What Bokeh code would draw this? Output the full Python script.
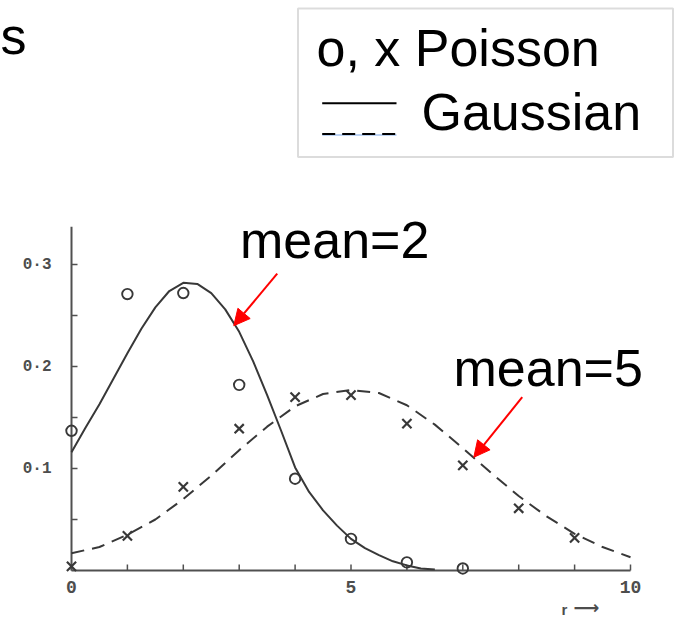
from math import pi

from bokeh.plotting import figure
from bokeh.models import Range1d, Label, Arrow, NormalHead, BoxAnnotation
from bokeh.core.properties import value
from bokeh.embed import file_html
from bokeh.resources import INLINE

# Poisson probabilities, mean = 2 (circles)
r_mean2 = [0, 1, 2, 3, 4, 5, 6, 7]
poisson_mean2 = [0.137, 0.271, 0.272, 0.182, 0.090, 0.031, 0.008, 0.002]

# Poisson probabilities, mean = 5 (crosses)
r_mean5 = [0, 1, 2, 3, 4, 5, 6, 7, 8, 9]
poisson_mean5 = [0.004, 0.034, 0.082, 0.139, 0.170, 0.172, 0.144, 0.103, 0.061, 0.032]

# Gaussian approximation, mean = 2 (solid curve)
gauss2_x = [0, 0.25, 0.5, 0.75, 1, 1.25, 1.5, 1.75, 2, 2.25, 2.5, 2.75, 3,
            3.25, 3.5, 3.75, 4, 4.25, 4.5, 4.75, 5, 5.25, 5.5, 5.75, 6, 6.25, 6.5]
gauss2_y = [0.116, 0.140, 0.163, 0.188, 0.213, 0.237, 0.258, 0.274, 0.282,
            0.281, 0.272, 0.256, 0.234, 0.205, 0.172, 0.137, 0.101, 0.077,
            0.059, 0.044, 0.031, 0.022, 0.015, 0.009, 0.005, 0.002, 0.001]

# Gaussian approximation, mean = 5 (dashed curve)
gauss5_x = [0, 0.5, 1, 1.5, 2, 2.5, 3, 3.5, 4, 4.5, 5, 5.5, 6, 6.5, 7, 7.5,
            8, 8.5, 9, 9.5, 10]
gauss5_y = [0.017, 0.023, 0.035, 0.050, 0.070, 0.093, 0.118, 0.141, 0.161,
            0.173, 0.177, 0.174, 0.162, 0.143, 0.120, 0.096, 0.073, 0.053,
            0.036, 0.023, 0.013]

# axis ticks and their labels
x_ticks = [0, 1, 2, 3, 4, 5, 6, 7, 8, 9, 10]
x_label_ticks = [0, 5, 10]
x_tick_labels = ["0", "5", "10"]
y_ticks = [0.05, 0.1, 0.15, 0.2, 0.25, 0.3]
y_label_ticks = [0.1, 0.2, 0.3]
y_tick_labels = ["0·1", "0·2", "0·3"]
y_axis_top = 0.337

INK = "#383838"
AXIS = "#505050"
TICK_TEXT = "#4d4d4d"
FONT = "Liberation Sans"
W, H = 677, 617

# the data area spans the whole canvas so that the key and notes fit around it
X0_PX, X_SCALE = 71, 55.9      # pixel of r = 0, pixels per unit of r
Y0_PX, Y_SCALE = 570, 1020     # pixel row of P = 0, pixels per unit of P

p = figure(width=W, height=H, output_backend="svg", toolbar_location=None,
           x_range=Range1d(-X0_PX / X_SCALE, (W - X0_PX) / X_SCALE),
           y_range=Range1d(-(H - Y0_PX) / Y_SCALE, Y0_PX / Y_SCALE),
           x_axis_location=None, y_axis_location=None, min_border=0)
p.grid.visible = False
p.outline_line_color = None
p.background_fill_color = "white"
p.border_fill_color = "white"

# axes: lines, inward ticks and tick labels
p.segment(x0=[0, 0], y0=[0, 0], x1=[x_ticks[-1], 0], y1=[0, y_axis_top],
          line_color=AXIS, line_width=2)
p.ray(x=x_ticks, y=[0] * len(x_ticks), length=6, length_units="screen",
      angle=pi / 2, line_color=AXIS, line_width=1.5)
p.ray(x=[0] * len(y_ticks), y=y_ticks, length=6, length_units="screen",
      angle=0, line_color=AXIS, line_width=1.5)
p.text(x=x_label_ticks, y=[0] * len(x_label_ticks), text=x_tick_labels,
       y_offset=10, text_align="center", text_baseline="top",
       text_font=value("Liberation Mono"), text_font_style="bold",
       text_font_size="18px", text_color=TICK_TEXT)
p.text(x=[0] * len(y_label_ticks), y=y_label_ticks, text=y_tick_labels,
       x_offset=-20, text_align="right", text_baseline="middle",
       text_font=value("Liberation Mono"), text_font_style="bold",
       text_font_size="16px", text_color=TICK_TEXT)

# curves and points
p.line(gauss2_x, gauss2_y, line_color=INK, line_width=2)
p.line(gauss5_x, gauss5_y, line_color=INK, line_width=2, line_dash="13 8")
p.scatter(r_mean2, poisson_mean2, marker="circle", size=10.5, fill_color=None,
          line_color=INK, line_width=1.9)
p.scatter(r_mean5, poisson_mean5, marker="x", size=13, line_color=INK,
          line_width=2.2)

# annotations for the two distributions
big = dict(text_font=FONT, text_font_size="52px", text_color="black",
           text_baseline="alphabetic")
p.add_layout(Label(x=3.014, y=0.3245, text="mean=2", **big))
p.add_layout(Label(x=6.834, y=0.1990, text="mean=5", **big))

for xs, ys, xe, ye in [(3.68, 0.291, 2.903, 0.240), (8.063, 0.170, 7.197, 0.111)]:
    p.add_layout(Arrow(end=NormalHead(size=16, fill_color="red", line_color="red",
                                      line_width=1),
                       x_start=xs, y_start=ys, x_end=xe, y_end=ye,
                       line_color="red", line_width=2))

# key box (screen units, origin at bottom-left of the canvas)
scr = dict(x_units="screen", y_units="screen")
p.add_layout(BoxAnnotation(left=297.5, right=672.5, bottom=460.5, top=609,
                           left_units="screen", right_units="screen",
                           top_units="screen", bottom_units="screen",
                           fill_color=None, line_color="#8a8a8a", line_width=2))
p.add_layout(Label(x=316, y=570, text="o, x Poisson", **scr, **big))
p.add_layout(Label(x=421, y=505.5, text="Gaussian", **scr, **big))
p.add_layout(Arrow(start=None, end=None, x_start=321.7, y_start=514.3,
                   x_end=396, y_end=514.3, start_units="screen", end_units="screen",
                   line_color="black", line_width=2))
p.add_layout(Arrow(start=None, end=None, x_start=321.7, y_start=482.5,
                   x_end=396, y_end=482.5, start_units="screen", end_units="screen",
                   line_color="#7aa7e8", line_width=1))
p.add_layout(Arrow(start=None, end=None, x_start=321.7, y_start=483.5,
                   x_end=396, y_end=483.5, start_units="screen", end_units="screen",
                   line_color="black", line_width=2, line_dash="13 7"))

# leftover title letter and axis name
p.add_layout(Label(x=0, y=581.5, text="s", **scr, **big))
p.add_layout(Label(x=561, y=8, text="r", **scr, text_font=FONT,
                   text_font_size="15px", text_font_style="bold",
                   text_color=TICK_TEXT, text_baseline="alphabetic"))
p.add_layout(Label(x=573, y=10, text="⟶", **scr, text_font="DejaVu Sans",
                   text_font_size="18px", text_font_style="bold",
                   text_color=TICK_TEXT, text_baseline="middle"))

open("out.html", "w").write(file_html(p, INLINE))
